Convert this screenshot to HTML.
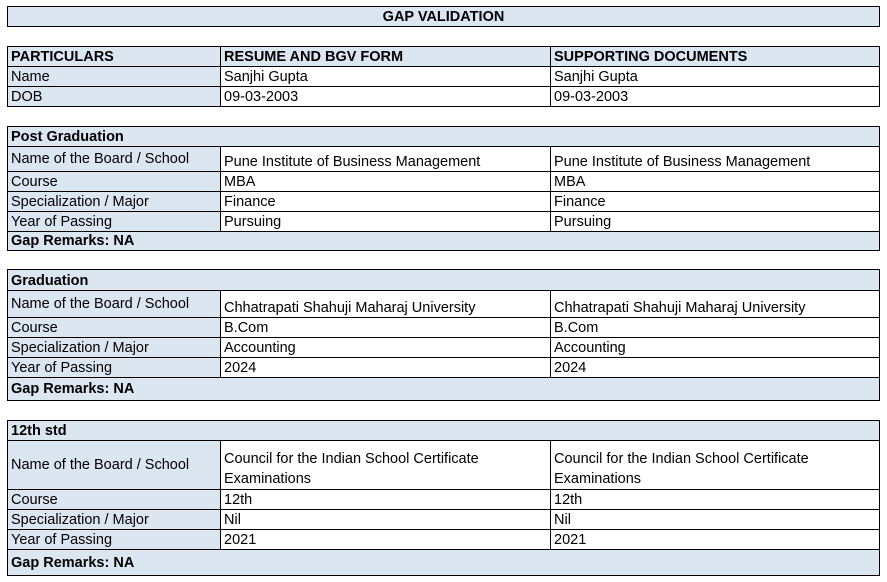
<!DOCTYPE html>
<html><head><style>
body{margin:0;width:887px;height:582px;background:#fff;position:relative;font-family:"Liberation Sans",sans-serif;font-size:14.5px;color:#000}
.c{position:absolute;box-sizing:border-box;border:1px solid #000;display:flex;align-items:flex-end;padding:0 0 0 3px;line-height:18px;overflow:hidden;white-space:nowrap}
.b{background:#dce6f1}
.h{font-weight:bold}
.m{align-items:center}
</style></head><body>
<div class="c b h" style="left:7px;top:6px;width:873px;height:21px;justify-content:center;padding-left:0">GAP VALIDATION</div>

<div class="c b h" style="left:7px;top:46px;width:214px;height:21px">PARTICULARS</div>
<div class="c b h" style="left:220px;top:46px;width:331px;height:21px">RESUME AND BGV FORM</div>
<div class="c b h" style="left:550px;top:46px;width:330px;height:21px">SUPPORTING DOCUMENTS</div>
<div class="c b" style="left:7px;top:66px;width:214px;height:21px">Name</div>
<div class="c" style="left:220px;top:66px;width:331px;height:21px">Sanjhi Gupta</div>
<div class="c" style="left:550px;top:66px;width:330px;height:21px">Sanjhi Gupta</div>
<div class="c b" style="left:7px;top:86px;width:214px;height:21px">DOB</div>
<div class="c" style="left:220px;top:86px;width:331px;height:21px">09-03-2003</div>
<div class="c" style="left:550px;top:86px;width:330px;height:21px">09-03-2003</div>

<div class="c b h" style="left:7px;top:126px;width:873px;height:21px">Post Graduation</div>
<div class="c b m" style="left:7px;top:146px;width:214px;height:26px">Name of the Board / School</div>
<div class="c" style="left:220px;top:146px;width:331px;height:26px">Pune Institute of Business Management</div>
<div class="c" style="left:550px;top:146px;width:330px;height:26px">Pune Institute of Business Management</div>
<div class="c b" style="left:7px;top:171px;width:214px;height:21px">Course</div>
<div class="c" style="left:220px;top:171px;width:331px;height:21px">MBA</div>
<div class="c" style="left:550px;top:171px;width:330px;height:21px">MBA</div>
<div class="c b" style="left:7px;top:191px;width:214px;height:21px">Specialization / Major</div>
<div class="c" style="left:220px;top:191px;width:331px;height:21px">Finance</div>
<div class="c" style="left:550px;top:191px;width:330px;height:21px">Finance</div>
<div class="c b" style="left:7px;top:211px;width:214px;height:21px">Year of Passing</div>
<div class="c" style="left:220px;top:211px;width:331px;height:21px">Pursuing</div>
<div class="c" style="left:550px;top:211px;width:330px;height:21px">Pursuing</div>
<div class="c b h" style="left:7px;top:231px;width:873px;height:20px">Gap Remarks: NA</div>

<div class="c b h" style="left:7px;top:269px;width:873px;height:22px">Graduation</div>
<div class="c b m" style="left:7px;top:290px;width:214px;height:28px">Name of the Board / School</div>
<div class="c" style="left:220px;top:290px;width:331px;height:28px">Chhatrapati Shahuji Maharaj University</div>
<div class="c" style="left:550px;top:290px;width:330px;height:28px">Chhatrapati Shahuji Maharaj University</div>
<div class="c b" style="left:7px;top:317px;width:214px;height:21px">Course</div>
<div class="c" style="left:220px;top:317px;width:331px;height:21px">B.Com</div>
<div class="c" style="left:550px;top:317px;width:330px;height:21px">B.Com</div>
<div class="c b" style="left:7px;top:337px;width:214px;height:21px">Specialization / Major</div>
<div class="c" style="left:220px;top:337px;width:331px;height:21px">Accounting</div>
<div class="c" style="left:550px;top:337px;width:330px;height:21px">Accounting</div>
<div class="c b" style="left:7px;top:357px;width:214px;height:21px">Year of Passing</div>
<div class="c" style="left:220px;top:357px;width:331px;height:21px">2024</div>
<div class="c" style="left:550px;top:357px;width:330px;height:21px">2024</div>
<div class="c b h" style="left:7px;top:377px;width:873px;height:24px;align-items:center">Gap Remarks: NA</div>

<div class="c b h" style="left:7px;top:420px;width:873px;height:21px">12th std</div>
<div class="c b m" style="left:7px;top:440px;width:214px;height:50px">Name of the Board / School</div>
<div class="c" style="left:220px;top:440px;width:331px;height:50px;white-space:normal;line-height:20px">Council for the Indian School Certificate<br>Examinations</div>
<div class="c" style="left:550px;top:440px;width:330px;height:50px;white-space:normal;line-height:20px">Council for the Indian School Certificate<br>Examinations</div>
<div class="c b" style="left:7px;top:489px;width:214px;height:21px">Course</div>
<div class="c" style="left:220px;top:489px;width:331px;height:21px">12th</div>
<div class="c" style="left:550px;top:489px;width:330px;height:21px">12th</div>
<div class="c b" style="left:7px;top:509px;width:214px;height:21px">Specialization / Major</div>
<div class="c" style="left:220px;top:509px;width:331px;height:21px">Nil</div>
<div class="c" style="left:550px;top:509px;width:330px;height:21px">Nil</div>
<div class="c b" style="left:7px;top:529px;width:214px;height:21px">Year of Passing</div>
<div class="c" style="left:220px;top:529px;width:331px;height:21px">2021</div>
<div class="c" style="left:550px;top:529px;width:330px;height:21px">2021</div>
<div class="c b h" style="left:7px;top:549px;width:873px;height:27px;align-items:center">Gap Remarks: NA</div>
</body></html>
